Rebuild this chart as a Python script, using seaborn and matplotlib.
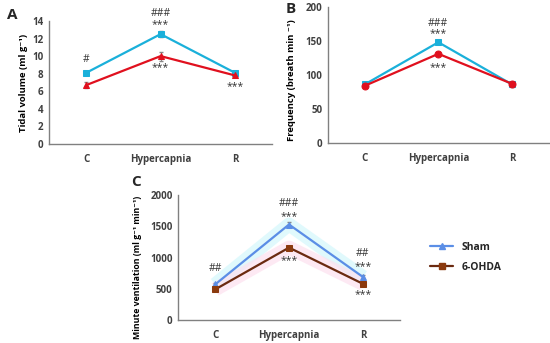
import seaborn as sns
import matplotlib.pyplot as plt
import pandas as pd
import numpy as np
from matplotlib.lines import Line2D

# data
phases = ['C', 'Hypercapnia', 'R']
groups = ['Sham', '6-OHDA']

tv_sham = [8.1, 12.5, 8.1]
tv_ohda = [6.7, 10.0, 7.8]
tv_sham_err = [0.2, 0.35, 0.25]
tv_ohda_err = [0.35, 0.5, 0.2]

fr_sham = [86, 148, 86]
fr_ohda = [84, 131, 87]
fr_sham_err = [2, 3, 4]
fr_ohda_err = [2, 2, 2]

mv_sham = [570, 1530, 690]
mv_ohda = [490, 1160, 580]
mv_sham_err = [30, 40, 30]
mv_ohda_err = [20, 30, 25]

# significance marks: (phase index, y, text)
marks_a = [(0, 9.6, '#'), (1, 14.9, '###'), (1, 13.6, '***'), (1, 8.7, '***'), (2, 6.5, '***')]
marks_b = [(1, 176, '###'), (1, 161, '***'), (1, 111, '***')]
marks_c = [(0, 820, '##'), (1, 1870, '###'), (1, 1660, '***'), (1, 950, '***'),
           (2, 1060, '##'), (2, 850, '***'), (2, 410, '***')]

sns.set_theme(style='white')
plt.rcParams['font.family'] = ['Open Sans', 'DejaVu Sans']

fig = plt.figure(figsize=(5.5, 3.43), dpi=100)
axA = fig.add_axes([0.089, 0.580, 0.406, 0.359])
axB = fig.add_axes([0.596, 0.583, 0.402, 0.397])
axC = fig.add_axes([0.324, 0.067, 0.403, 0.364])


def panel(ax, sham, ohda, sham_err, ohda_err, cols, mk, ylim, yticks, ylabel, marks,
          line_cols=None, glow=False, yfs=6.8):
    df = pd.DataFrame({
        'x': list(range(3)) * 2,
        'y': sham + ohda,
        'group': ['Sham'] * 3 + ['6-OHDA'] * 3,
    })
    if glow:
        for g, c in zip(groups, ['#d4f7fc', '#fde0ef']):
            d = df[df.group == g]
            ax.plot(d.x, d.y, color=c, lw=10, alpha=0.7, zorder=1, solid_capstyle='butt')
    lc = line_cols if line_cols else cols
    sns.lineplot(data=df, x='x', y='y', hue='group', hue_order=groups,
                 palette=dict(zip(groups, lc)), style='group', markers=dict(zip(groups, mk)),
                 dashes=False, lw=1.6, markersize=5, ax=ax, legend=False, zorder=3)
    for line, c in zip(ax.lines[-2:], cols):
        line.set_markerfacecolor(c)
        line.set_markeredgecolor(c)
    for vals, errs in [(sham, sham_err), (ohda, ohda_err)]:
        ax.errorbar(range(3), vals, yerr=errs, fmt='none', ecolor='#888888', elinewidth=0.8, capsize=1.5, zorder=2)
    for i, y, t in marks:
        ax.text(i, y, t, ha='center', va='center', fontsize=7.5, color='#333333')
    ax.set_xlim(-0.5, 2.5)
    ax.set_ylim(*ylim)
    ax.set_yticks(yticks)
    ax.set_xticks(range(3))
    ax.set_xticklabels(phases)
    ax.set_xlabel('')
    ax.set_ylabel(ylabel, fontsize=yfs, fontweight='bold', color='black', labelpad=3)
    ax.tick_params(axis='both', length=0, labelsize=7, colors='#404040', pad=4)
    ax.xaxis.set_tick_params(pad=7)
    for lab in ax.get_xticklabels() + ax.get_yticklabels():
        lab.set_fontweight('bold')
    sns.despine(ax=ax)
    for s in ['left', 'bottom']:
        ax.spines[s].set_color('#808080')
        ax.spines[s].set_linewidth(1.0)


panel(axA, tv_sham, tv_ohda, tv_sham_err, tv_ohda_err, ['#1ab0da', '#e0101e'], ['s', '^'],
      (0, 14), range(0, 15, 2), 'Tidal volume (ml g⁻¹)', marks_a)
panel(axB, fr_sham, fr_ohda, fr_sham_err, fr_ohda_err, ['#1ab0da', '#e0101e'], ['s', 'o'],
      (0, 200), range(0, 201, 50), 'Frequency (breath min ⁻¹)', marks_b)
panel(axC, mv_sham, mv_ohda, mv_sham_err, mv_ohda_err, ['#5b8ee6', '#8b3a0e'], ['^', 's'],
      (0, 2000), range(0, 2001, 500), 'Minute ventilation (ml g⁻¹ min⁻¹)', marks_c,
      line_cols=['#5b8ee6', '#6b2a10'], glow=True, yfs=6.3)
axC.yaxis.set_label_coords(-0.165, 0.42)
axB.yaxis.set_label_coords(-0.145, 0.46)

fig.text(0.012, 0.955, 'A', fontsize=11, fontweight='bold', va='center')
fig.text(0.520, 0.975, 'B', fontsize=11, fontweight='bold', va='center')
fig.text(0.238, 0.468, 'C', fontsize=11, fontweight='bold', va='center')

# legend
handles = [Line2D([], [], color='#5b8ee6', marker='^', lw=1.6, markersize=5),
           Line2D([], [], color='#6b2a10', marker='s', markerfacecolor='#8b3a0e',
                  markeredgecolor='#8b3a0e', lw=1.6, markersize=5)]
leg = fig.legend(handles, groups, loc='center left', bbox_to_anchor=(0.765, 0.25),
                 frameon=False, fontsize=7.5, handlelength=2.2, labelspacing=0.9)
for t in leg.get_texts():
    t.set_fontweight('bold')

fig.savefig('out.png', dpi=100)
